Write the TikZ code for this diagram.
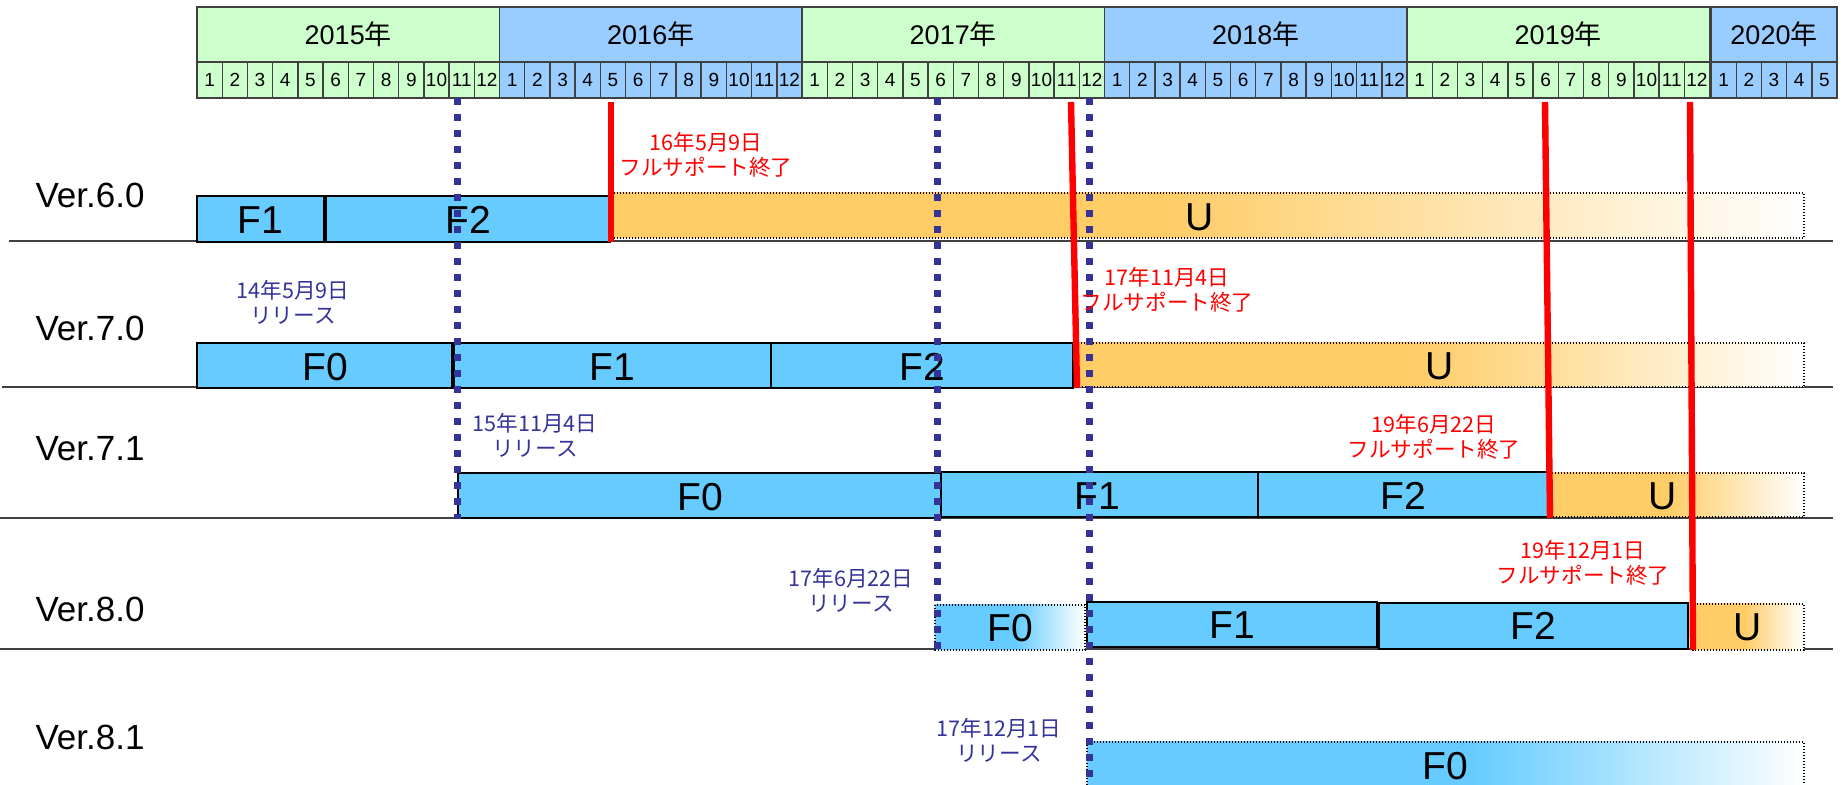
\documentclass[tikz,border=0pt]{standalone}
\usepackage{fontspec}
\setmainfont{Liberation Sans}
\newfontfamily\jpfont{Noto Sans CJK JP}
\definecolor{yeargreen}{HTML}{CCFFCC}
\definecolor{yearblue}{HTML}{99CCFF}
\definecolor{barblue}{HTML}{66CCFF}
\definecolor{barorange}{HTML}{FFCC66}
\definecolor{relblue}{HTML}{333399}
\pgfdeclarehorizontalshading{orangefade}{100bp}{color(0bp)=(barorange); color(25bp)=(barorange); color(48bp)=(barorange); color(75bp)=(white); color(100bp)=(white)}
\pgfdeclarehorizontalshading{bluefade}{100bp}{color(0bp)=(barblue); color(25bp)=(barblue); color(52bp)=(barblue); color(75bp)=(white); color(100bp)=(white)}

\begin{document}
\begin{tikzpicture}[x=0.5pt, y=-0.5pt,
    cell/.style={draw=black!75, line width=0.7pt},
    yeartext/.style={font=\fontsize{13.5}{14}\selectfont},
    monthtext/.style={font=\fontsize{9.5}{10}\selectfont, inner sep=0pt},
    rowline/.style={draw=black!75, line width=0.7pt},
    verlabel/.style={font=\fontsize{17.5}{18}\selectfont},
    fbar/.style={draw=black, line width=0.9pt, fill=barblue},
    ubar/.style={draw=black, line width=0.6pt, dash pattern=on 0.6pt off 0.9pt, shading=orangefade},
    f0fade/.style={draw=black, line width=0.6pt, dash pattern=on 0.6pt off 0.9pt, shading=bluefade},
    barlabel/.style={font=\fontsize{19.5}{20}\selectfont, inner sep=1pt},
    eol/.style={draw=red, line width=3.2pt},
    release/.style={draw=relblue, line width=3.5pt, dash pattern=on 3.5pt off 4.5pt},
    eolnote/.style={text=red, align=center, font=\jpfont\fontsize{10.8}{12.5}\selectfont},
    relnote/.style={text=relblue, align=center, font=\jpfont\fontsize{10.8}{12.5}\selectfont}]

    \useasboundingbox (0,0) rectangle (1843,785);

    \begin{scope}
        \foreach \yr/\col [count=\i from 0] in {2015/yeargreen, 2016/yearblue, 2017/yeargreen, 2018/yearblue, 2019/yeargreen} {
            \draw[cell, fill=\col] (197+302.5*\i,7) rectangle ++(302.5,55);
            \node[yeartext] (y\yr) at (348.25+302.5*\i,34.5) {\yr\jpfont 年};
            \foreach \m in {1,...,12} {
                \draw[cell, fill=\col] (171.79+302.5*\i+25.21*\m,62) rectangle ++(25.21,36);
                \node[monthtext] (m\yr-\m) at (184.4+302.5*\i+25.21*\m,80) {\m};
            }
        }
        \draw[cell, fill=yearblue] (1711,7) rectangle (1837,62);
        \node[yeartext] (y2020) at (1774,34.5) {2020\jpfont 年};
        \foreach \m in {1,...,5} {
            \draw[cell, fill=yearblue] (1685.8+25.2*\m,62) rectangle ++(25.2,36);
            \node[monthtext] (m2020-\m) at (1698.4+25.2*\m,80) {\m};
        }
    \end{scope}

    \draw[rowline] (9,241) -- (1833,241);
    \draw[rowline] (2,387) -- (1833,387);
    \draw[rowline] (0,518) -- (1833,518);
    \draw[rowline] (0,649) -- (1833,649);

    \node[verlabel] (v60) at (90,195) {Ver.6.0};
    \draw[fbar] (197,196) rectangle (324,242);
    \draw[fbar] (326,196) rectangle (610,242);
    \shadedraw[ubar] (611,193) rectangle (1804,238);
    \node[barlabel] (v60f1) at (260,220) {F1};
    \node[barlabel] (v60f2) at (468,220) {F2};
    \node[barlabel] (v60u) at (1200,217) {U};

    \node[verlabel] (v70) at (90,328) {Ver.7.0};
    \draw[fbar] (197,343) rectangle (452,388);
    \draw[fbar] (454,343) rectangle (771,388);
    \draw[fbar] (771,343) rectangle (1073,388);
    \shadedraw[ubar] (1075,343) rectangle (1804,387);
    \node[barlabel] (v70f0) at (325,367) {F0};
    \node[barlabel] (v70f1) at (612,367) {F1};
    \node[barlabel] (v70f2) at (922,367) {F2};
    \node[barlabel] (v70u) at (1440,366) {U};

    \node[verlabel] (v71) at (90,449) {Ver.7.1};
    \draw[fbar] (458,473) rectangle (941,518);
    \draw[fbar] (941,472) rectangle (1258,517);
    \draw[fbar] (1258,472) rectangle (1548,517);
    \shadedraw[ubar] (1549,473) rectangle (1804,517);
    \node[barlabel] (v71f0) at (700,497) {F0};
    \node[barlabel] (v71f1) at (1097,496) {F1};
    \node[barlabel] (v71f2) at (1403,496) {F2};
    \node[barlabel] (v71u) at (1663,496) {U};

    \node[verlabel] (v80) at (90,609) {Ver.8.0};
    \shadedraw[f0fade] (935,605) rectangle (1085,650);
    \draw[fbar] (1087,602) rectangle (1377,647);
    \draw[fbar] (1379,603) rectangle (1688,649);
    \shadedraw[ubar] (1693,604) rectangle (1804,650);
    \node[barlabel] (v80f0) at (1010,628) {F0};
    \node[barlabel] (v80f1) at (1232,625) {F1};
    \node[barlabel] (v80f2) at (1533,626) {F2};
    \node[barlabel] (v80u) at (1748,627) {U};

    \node[verlabel] (v81) at (90,737) {Ver.8.1};
    \shadedraw[f0fade] (1087,742) rectangle (1804,800);
    \node[barlabel] (v81f0) at (1445,766) {F0};

    \coordinate (eol60a) at (611,102);
    \coordinate (eol60b) at (611,242);
    \coordinate (eol70a) at (1071,102);
    \coordinate (eol70b) at (1077,388);
    \coordinate (eol71a) at (1545,102);
    \coordinate (eol71b) at (1550,518);
    \coordinate (eol80a) at (1690,102);
    \coordinate (eol80b) at (1693,650);
    \draw[eol] (eol60a) -- (eol60b);
    \draw[eol] (eol70a) -- (eol70b);
    \draw[eol] (eol71a) -- (eol71b);
    \draw[eol] (eol80a) -- (eol80b);

    \coordinate (rel71a) at (457,98);
    \coordinate (rel71b) at (457,519);
    \coordinate (rel80a) at (937,98);
    \coordinate (rel80b) at (937,650);
    \coordinate (rel81a) at (1089,98);
    \coordinate (rel81b) at (1089,790);
    \draw[release] (rel71a) -- (rel71b);
    \draw[release] (rel80a) -- (rel80b);
    \draw[release] (rel81a) -- (rel81b);

    \node[eolnote] (n60) at (706,155) {16年5月9日\\フルサポート終了};
    \node[eolnote] (n70) at (1167,290) {17年11月4日\\フルサポート終了};
    \node[eolnote] (n71) at (1434,437) {19年6月22日\\フルサポート終了};
    \node[eolnote] (n80) at (1583,563) {19年12月1日\\フルサポート終了};

    \node[relnote] (r70) at (293,302) {14年5月9日\\リリース};
    \node[relnote] (r71) at (535,435) {15年11月4日\\リリース};
    \node[relnote] (r80) at (851,590) {17年6月22日\\リリース};
    \node[relnote] (r81) at (999,740) {17年12月1日\\リリース};
\end{tikzpicture}
\end{document}
